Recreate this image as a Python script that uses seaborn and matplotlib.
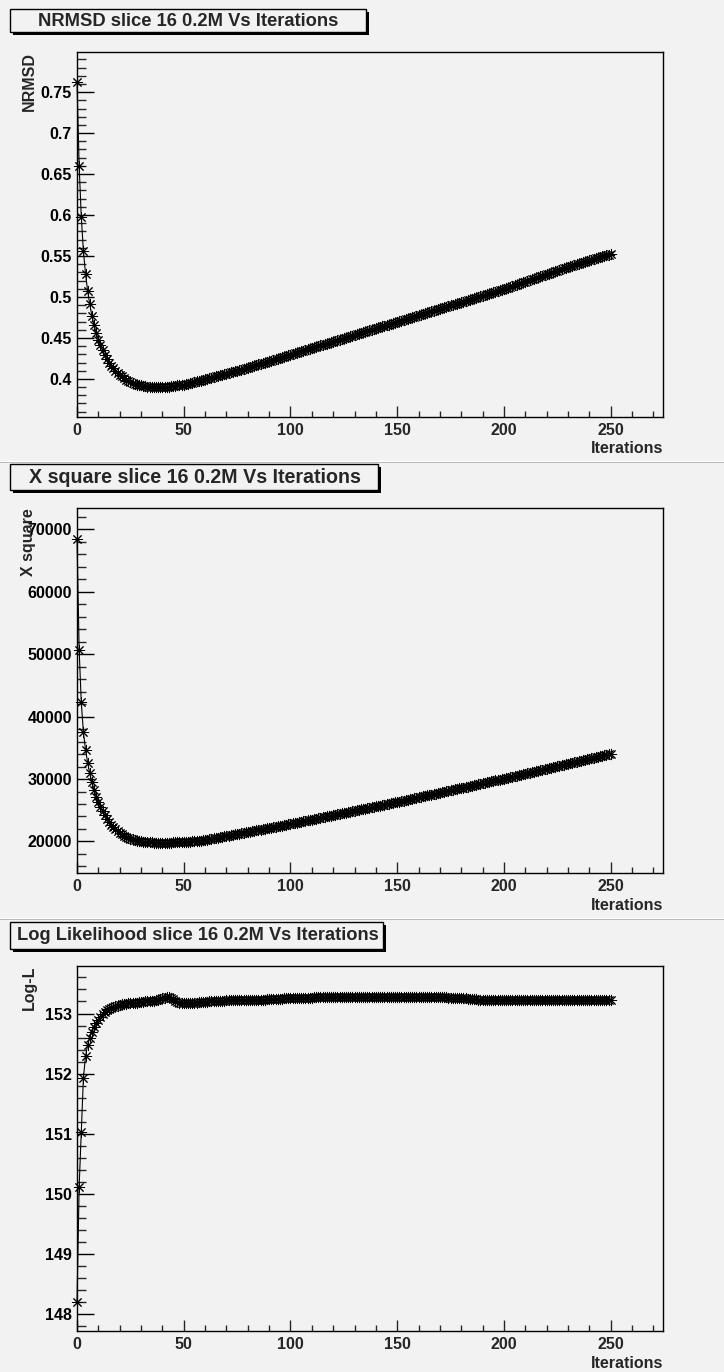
import numpy as np
import pandas as pd
import matplotlib
matplotlib.use("Agg")
import matplotlib.pyplot as plt
import seaborn as sns
from matplotlib.patches import Rectangle
from matplotlib.lines import Line2D
from matplotlib.ticker import MultipleLocator, FuncFormatter

# ---------------- data ----------------
iterations = list(range(0, 251))

nrmsd = [
    0.762, 0.660, 0.598, 0.556, 0.528, 0.507, 0.491, 0.477, 0.466, 0.456,
    0.448, 0.441, 0.435, 0.429, 0.424, 0.420, 0.416, 0.413, 0.410, 0.407,
    0.405, 0.403, 0.401, 0.399, 0.398, 0.396, 0.395, 0.394, 0.393, 0.392,
    0.392, 0.391, 0.391, 0.390, 0.390, 0.390, 0.390, 0.390, 0.390, 0.390,
    0.390, 0.390, 0.390, 0.390, 0.391, 0.391, 0.391, 0.392, 0.392, 0.393,
    0.393, 0.394, 0.394, 0.395, 0.395, 0.396, 0.397, 0.397, 0.398, 0.399,
    0.3995, 0.4002, 0.4009, 0.4016, 0.4023, 0.4030, 0.4037, 0.4044, 0.4051, 0.4058,
    0.4065, 0.4072, 0.4079, 0.4086, 0.4093, 0.4100, 0.4107, 0.4114, 0.4121, 0.4128,
    0.4136, 0.4144, 0.4152, 0.4160, 0.4168, 0.4176, 0.4184, 0.4192, 0.4200, 0.4208,
    0.4216, 0.4224, 0.4232, 0.4240, 0.4248, 0.4256, 0.4264, 0.4272, 0.4280, 0.4288,
    0.4296, 0.4304, 0.4312, 0.4320, 0.4328, 0.4336, 0.4344, 0.4352, 0.4360, 0.4368,
    0.4376, 0.4384, 0.4392, 0.4400, 0.4408, 0.4416, 0.4424, 0.4432, 0.4440, 0.4448,
    0.4456, 0.4464, 0.4472, 0.4480, 0.4488, 0.4496, 0.4504, 0.4512, 0.4520, 0.4528,
    0.4536, 0.4544, 0.4552, 0.4560, 0.4568, 0.4576, 0.4584, 0.4592, 0.4600, 0.4608,
    0.4616, 0.4624, 0.4632, 0.4640, 0.4648, 0.4656, 0.4664, 0.4672, 0.4680, 0.4688,
    0.4696, 0.4704, 0.4712, 0.4720, 0.4728, 0.4736, 0.4744, 0.4752, 0.4760, 0.4768,
    0.4776, 0.4784, 0.4792, 0.4800, 0.4808, 0.4816, 0.4824, 0.4832, 0.4840, 0.4848,
    0.4856, 0.4864, 0.4872, 0.4880, 0.4888, 0.4896, 0.4904, 0.4912, 0.4920, 0.4928,
    0.4936, 0.4944, 0.4952, 0.4960, 0.4968, 0.4976, 0.4984, 0.4992, 0.5000, 0.5008,
    0.5016, 0.5024, 0.5032, 0.5040, 0.5048, 0.5056, 0.5064, 0.5072, 0.5080, 0.5088,
    0.5097, 0.5106, 0.5115, 0.5124, 0.5133, 0.5142, 0.5151, 0.5160, 0.5169, 0.5178,
    0.5187, 0.5196, 0.5205, 0.5214, 0.5223, 0.5232, 0.5241, 0.5250, 0.5259, 0.5268,
    0.5277, 0.5286, 0.5295, 0.5304, 0.5313, 0.5322, 0.5331, 0.5340, 0.5349, 0.5358,
    0.5366, 0.5374, 0.5382, 0.5390, 0.5398, 0.5406, 0.5414, 0.5422, 0.5430, 0.5438,
    0.5446, 0.5454, 0.5462, 0.5470, 0.5478, 0.5486, 0.5494, 0.5502, 0.5510, 0.5518,
    0.5526,
]

xsquare = [
    68400, 50700, 42300, 37500, 34700, 32600, 30900, 29500, 28300, 27200,
    26300, 25500, 24800, 24200, 23600, 23100, 22700, 22300, 21950, 21650,
    21380, 21140, 20930, 20740, 20580, 20440, 20320, 20220, 20130, 20060,
    20000, 19950, 19910, 19880, 19860, 19840, 19830, 19820, 19815, 19810,
    19810, 19810, 19815, 19820, 19830, 19840, 19850, 19865, 19880, 19900,
    19920, 19940, 19965, 19990, 20020, 20050, 20080, 20110, 20145, 20180,
    20215, 20280, 20345, 20410, 20475, 20540, 20605, 20670, 20735, 20800,
    20865, 20930, 20995, 21060, 21125, 21190, 21255, 21320, 21385, 21450,
    21515, 21580, 21645, 21710, 21775, 21840, 21905, 21970, 22035, 22100,
    22165, 22230, 22295, 22360, 22425, 22490, 22555, 22620, 22685, 22750,
    22815, 22885, 22955, 23025, 23095, 23165, 23235, 23305, 23375, 23445,
    23515, 23585, 23655, 23725, 23795, 23865, 23935, 24005, 24075, 24145,
    24215, 24285, 24355, 24425, 24495, 24565, 24635, 24705, 24775, 24845,
    24915, 24985, 25055, 25125, 25195, 25265, 25335, 25405, 25475, 25545,
    25615, 25685, 25755, 25825, 25895, 25965, 26035, 26105, 26175, 26245,
    26315, 26390, 26465, 26540, 26615, 26690, 26765, 26840, 26915, 26990,
    27065, 27140, 27215, 27290, 27365, 27440, 27515, 27590, 27665, 27740,
    27815, 27890, 27965, 28040, 28115, 28190, 28265, 28340, 28415, 28490,
    28565, 28640, 28715, 28790, 28865, 28940, 29015, 29090, 29165, 29240,
    29315, 29390, 29465, 29540, 29615, 29690, 29765, 29840, 29915, 29990,
    30065, 30145, 30225, 30305, 30385, 30465, 30545, 30625, 30705, 30785,
    30865, 30945, 31025, 31105, 31185, 31265, 31345, 31425, 31505, 31585,
    31665, 31745, 31825, 31905, 31985, 32065, 32145, 32225, 32305, 32385,
    32465, 32545, 32625, 32705, 32785, 32865, 32945, 33025, 33105, 33185,
    33265, 33345, 33425, 33505, 33585, 33665, 33745, 33825, 33905, 33985,
    34065,
]

loglik = [
    148.20, 150.12, 151.03, 151.93, 152.29, 152.48, 152.60, 152.70, 152.78, 152.85,
    152.90, 152.95, 152.99, 153.02, 153.05, 153.07, 153.09, 153.11, 153.12, 153.13,
    153.14, 153.15, 153.16, 153.16, 153.17, 153.17, 153.18, 153.18, 153.18, 153.19,
    153.19, 153.19, 153.20, 153.20, 153.20, 153.21, 153.21, 153.22, 153.23, 153.24,
    153.25, 153.26, 153.27, 153.27, 153.26, 153.24, 153.21, 153.19, 153.18, 153.17,
    153.17, 153.17, 153.17, 153.17, 153.18, 153.18, 153.18, 153.19, 153.19, 153.19,
    153.19, 153.19, 153.20, 153.20, 153.20, 153.20, 153.21, 153.21, 153.21, 153.21,
    153.22, 153.22, 153.22, 153.22, 153.22, 153.22, 153.22, 153.22, 153.22, 153.22,
    153.22, 153.22, 153.23, 153.23, 153.23, 153.23, 153.23, 153.23, 153.23, 153.24,
    153.24, 153.24, 153.24, 153.24, 153.24, 153.24, 153.24, 153.25, 153.25, 153.25,
    153.25, 153.25, 153.25, 153.25, 153.25, 153.26, 153.26, 153.26, 153.26, 153.26,
    153.26, 153.27, 153.27, 153.27, 153.27, 153.27, 153.27, 153.27, 153.27, 153.27,
    153.27, 153.27, 153.27, 153.27, 153.27, 153.27, 153.28, 153.28, 153.28, 153.28,
    153.28, 153.28, 153.28, 153.28, 153.28, 153.28, 153.28, 153.28, 153.28, 153.28,
    153.28, 153.28, 153.28, 153.28, 153.28, 153.28, 153.28, 153.28, 153.28, 153.28,
    153.28, 153.28, 153.28, 153.28, 153.28, 153.28, 153.28, 153.28, 153.28, 153.28,
    153.28, 153.28, 153.28, 153.28, 153.28, 153.28, 153.28, 153.28, 153.28, 153.27,
    153.27, 153.27, 153.27, 153.27, 153.26, 153.26, 153.26, 153.26, 153.25, 153.25,
    153.25, 153.25, 153.25, 153.24, 153.24, 153.24, 153.24, 153.24, 153.23, 153.23,
    153.23, 153.23, 153.23, 153.23, 153.23, 153.22, 153.22, 153.22, 153.22, 153.22,
    153.22, 153.22, 153.22, 153.22, 153.22, 153.22, 153.22, 153.22, 153.22, 153.22,
    153.22, 153.22, 153.22, 153.22, 153.22, 153.22, 153.22, 153.22, 153.22, 153.22,
    153.22, 153.22, 153.22, 153.22, 153.22, 153.22, 153.22, 153.22, 153.22, 153.22,
    153.22, 153.22, 153.22, 153.22, 153.22, 153.22, 153.22, 153.22, 153.22, 153.22,
    153.22, 153.22, 153.22, 153.22, 153.22, 153.22, 153.22, 153.22, 153.22, 153.22,
    153.22,
]

titles = [
    "NRMSD slice 16 0.2M Vs Iterations",
    "X square slice 16 0.2M Vs Iterations",
    "Log Likelihood slice 16 0.2M Vs Iterations",
]
ylabels = ["NRMSD", "X square", "Log-L"]
xlabel = "Iterations"

# ---------------- layout (pixels) ----------------
W, H = 724, 1372
BG = "#f2f2f2"

sns.set_theme(style="ticks")
plt.rcParams["font.family"] = ["Liberation Sans", "DejaVu Sans"]
plt.rcParams["font.weight"] = "bold"

fig = plt.figure(figsize=(W / 100, H / 100), dpi=100)
fig.patch.set_facecolor(BG)

def fy(y):
    return 1 - y / H

def fx(x):
    return x / W

panels = [
    dict(series=nrmsd, ylim=(0.3535, 0.7990), major=0.05, minor=0.01,
         ax_top=52, ax_bot=417, box=(10, 9, 366, 32), text_w=300, text_cx=188),
    dict(series=xsquare, ylim=(14950, 73400), major=10000, minor=2000,
         ax_top=508, ax_bot=873, box=(10, 464, 378, 490), text_w=331, text_cx=195),
    dict(series=loglik, ylim=(147.72, 153.79), major=1, minor=0.2,
         ax_top=966, ax_bot=1331, box=(10, 922, 383, 949), text_w=360, text_cx=198),
]

AX_L, AX_R = 77, 663
separators = [462, 919]

for ysep in separators:
    fig.add_artist(Line2D([0, 1], [fy(ysep), fy(ysep)], transform=fig.transFigure,
                          color="#9a9a9a", lw=1.2))
    fig.add_artist(Line2D([0, 1], [fy(ysep - 1.5), fy(ysep - 1.5)], transform=fig.transFigure,
                          color="#ffffff", lw=1.0))

def fmt(v, pos):
    return "%g" % round(v, 6)

renderer = fig.canvas.get_renderer()

for i, p in enumerate(panels):
    ax = fig.add_axes([fx(AX_L), fy(p["ax_bot"]), (AX_R - AX_L) / W,
                       (p["ax_bot"] - p["ax_top"]) / H])
    ax.set_facecolor(BG)
    df = pd.DataFrame({"it": iterations, "val": p["series"]})
    sns.lineplot(data=df, x="it", y="val", ax=ax, estimator=None, sort=False,
                 color="black", lw=0.8, marker=(8, 2, 0), markersize=8,
                 markeredgewidth=0.7, markeredgecolor="black", clip_on=False)
    ax.set_xlim(0, 274.5)
    ax.set_ylim(*p["ylim"])
    ax.xaxis.set_major_locator(MultipleLocator(50))
    ax.xaxis.set_minor_locator(MultipleLocator(10))
    ax.yaxis.set_major_locator(MultipleLocator(p["major"]))
    ax.yaxis.set_minor_locator(MultipleLocator(p["minor"]))
    ax.yaxis.set_major_formatter(FuncFormatter(fmt))
    ax.xaxis.set_major_formatter(FuncFormatter(fmt))
    ax.tick_params(axis="y", which="major", direction="in", length=12.5, width=1,
                   pad=3.6, labelsize=11.5, colors="black")
    ax.tick_params(axis="y", which="minor", direction="in", length=6.2, width=1)
    ax.tick_params(axis="x", which="major", direction="in", length=8, width=1,
                   pad=4, labelsize=11.5)
    ax.tick_params(axis="x", which="minor", direction="in", length=4, width=1)
    ax.tick_params(top=False, right=False, which="both")
    for lab in ax.get_xticklabels() + ax.get_yticklabels():
        lab.set_fontweight("bold")
    for s in ax.spines.values():
        s.set_visible(True)
        s.set_color("black")
        s.set_linewidth(1.0)
    ax.set_xlabel("")
    ax.set_ylabel("")

    # axis titles
    fig.text(fx(AX_R), fy(p["ax_bot"] + 32), xlabel, ha="right", va="center",
             fontsize=11.5, fontweight="bold")
    fig.text(fx(29), fy(p["ax_top"]), ylabels[i], rotation=90, ha="center",
             va="top", fontsize=11.5, fontweight="bold")

    # title box with shadow
    x0, y0, x1, y1 = p["box"]
    fig.add_artist(Rectangle((fx(x0 + 3), fy(y1 + 3)), (x1 - x0) / W, (y1 - y0) / H,
                             transform=fig.transFigure, facecolor="black",
                             edgecolor="black", lw=0))
    fig.add_artist(Rectangle((fx(x0), fy(y1)), (x1 - x0) / W, (y1 - y0) / H,
                             transform=fig.transFigure, facecolor=BG,
                             edgecolor="black", lw=1))
    t = fig.text(fx(p["text_cx"]), fy((y0 + y1) / 2 + 0.5), titles[i], ha="center",
                 va="center", fontsize=12, fontweight="bold")
    w = t.get_window_extent(renderer).width
    t.set_fontsize(12 * p["text_w"] / w)

fig.savefig("out.png", dpi=100, facecolor=BG)
